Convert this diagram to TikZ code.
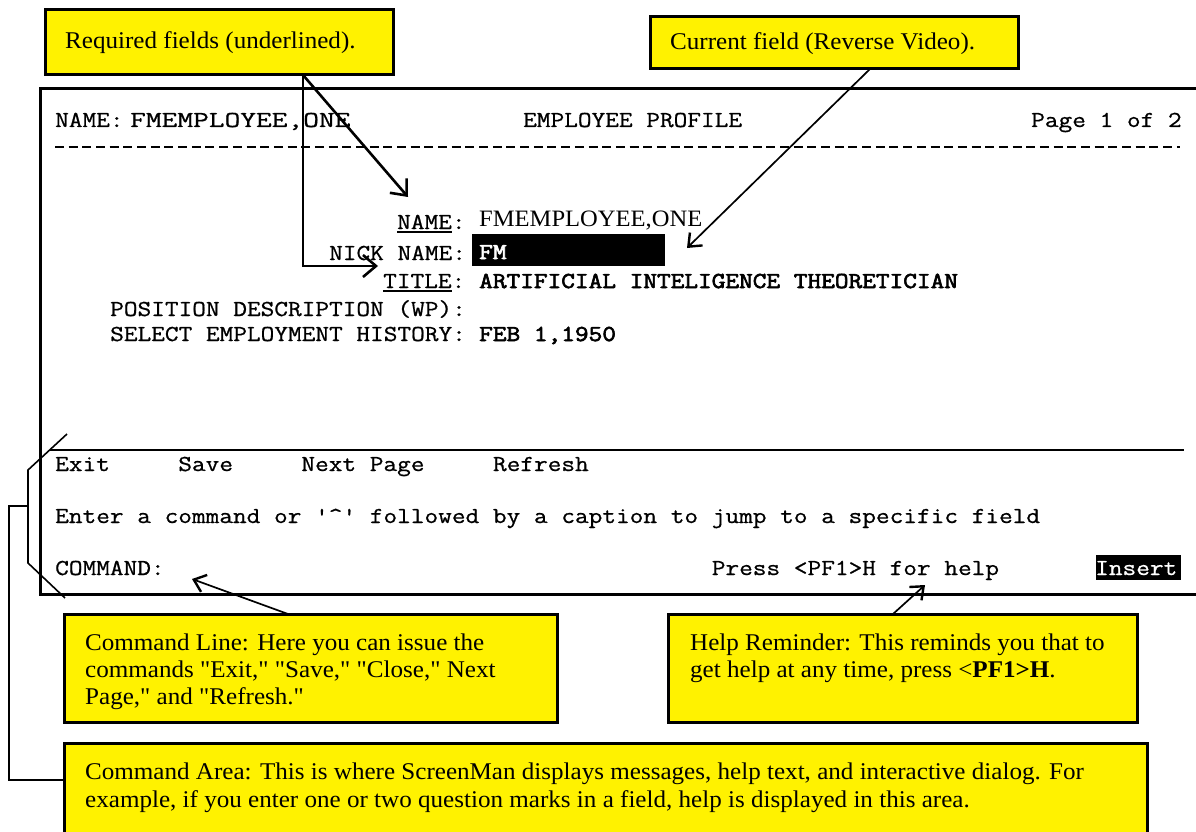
\documentclass[tikz,border=0pt]{standalone}
\usepackage{fontspec}
\usepackage{graphicx}
\setmainfont{Liberation Serif}
\newfontfamily\ser[FakeStretch=1.045]{Liberation Serif}
\newfontfamily\mono[FakeStretch=1.165,FakeBold=0.8]{Latin Modern Mono}
\newfontfamily\monob[FakeStretch=1.165,FakeBold=2.8]{Latin Modern Mono}
\usetikzlibrary{arrows.meta,calc}
\newcommand{\ulx}[1]{\setbox0\hbox{#1}\rlap{\rule[-3.5pt]{\wd0}{2pt}}\box0}
\tikzset{
  ybox/.style={draw=black, line width=3pt, fill=yellow, inner sep=0pt, outer sep=0pt, anchor=north west},
  ytext/.style={anchor=base west, inner sep=0pt, font=\ser\fontsize{24}{27}\selectfont},
  mtext/.style={anchor=base west, inner sep=0pt, font=\mono\fontsize{22.8}{27}\selectfont},
  mbold/.style={anchor=base west, inner sep=0pt, font=\monob\fontsize{22.8}{27}\selectfont},
  blk/.style={fill=black, inner sep=0pt, outer sep=0pt, anchor=north west},
  arr/.style={line width=2.6pt, -{Straight Barb[length=13pt,width=22pt,line width=2.6pt]}},
  thinarr/.style={line width=1.7pt, -{Straight Barb[length=11pt,width=18pt,line width=2.4pt]}},
}
\begin{document}
\begin{tikzpicture}[x=1pt,y=-1pt]
\useasboundingbox (0,0) rectangle (1196,832);
\clip (0,0) rectangle (1196,832);

% screen frame
\node[draw=black, line width=3pt, inner sep=0pt, outer sep=0pt, anchor=north west,
      minimum width=1170pt, minimum height=505pt] (screen) at (40,89) {};

% header
\node[mtext] (hname) at (55,127) {NAME:};
\node[mtext] (hval) at (130,127) {\scalebox{1.15}[1]{FMEMPLOYEE,ONE}};
\node[mtext] (htitle) at (523,127) {EMPLOYEE PROFILE};
\node[mtext] (hpage) at (1031,127) {Page 1 of 2};
\draw[line width=1.4pt, dash pattern=on 9pt off 4.68pt] (55,147) -- (1180,147);

% fields
\node[mtext] (lname) at (397,229) {\ulx{NAME}:};
\node[ytext, font=\ser\fontsize{23.5}{27}\selectfont] (vname) at (479,226) {FMEMPLOYEE,ONE};
\node[blk, minimum width=193pt, minimum height=32pt] (fmbox) at (472,234) {};
\node[mbold, text=white] (vnick) at (479,259) {FM};
\node[mtext] (lnick) at (329,260) {NICK NAME:};
\node[mtext] (ltitle) at (383,288) {\ulx{TITLE}:};
\node[mbold] (vtitle) at (479,288) {ARTIFICIAL INTELIGENCE THEORETICIAN};
\node[mtext] (lpos) at (110,316) {POSITION DESCRIPTION (WP):};
\node[mtext] (lsel) at (110,341) {SELECT EMPLOYMENT HISTORY:};
\node[mbold] (vsel) at (479,341) {FEB 1,1950};

% command area
\draw[line width=2pt] (50,450) -- (1184,450);
\node[mtext] (mexit) at (55,471) {Exit};
\node[mtext] (msave) at (178.1,471) {Save};
\node[mtext] (mnext) at (301.2,471) {Next Page};
\node[mtext] (mref) at (492.8,471) {Refresh};
\node[mtext] (enter) at (55,523) {Enter a command or '\textasciicircum' followed by a caption to jump to a specific field};
\node[mtext] (cmd) at (55,575) {COMMAND:};
\node[mtext] (help) at (711.6,575) {Press <PF1>H for help};
\node[blk, minimum width=85pt, minimum height=25pt] (insbox) at (1096,555) {};
\node[mtext, text=white] (ins) at (1095,575) {Insert};

% yellow callouts
\node[ybox, minimum width=348pt, minimum height=65pt] (req) at (45,10) {};
\node[ytext] (reqt) at (65,49) {Required fields (underlined).};
\node[ybox, minimum width=368pt, minimum height=52pt] (cur) at (650,17) {};
\node[ytext] (curt) at (670,50) {Current field (Reverse Video).};

\node[ybox, minimum width=493pt, minimum height=108pt] (cline) at (64,614) {};
\node[ytext] (cl1) at (85,650) {Command Line: Here you can issue the};
\node[ytext] (cl2) at (85,677) {commands "Exit," "Save," "Close," Next};
\node[ytext] (cl3) at (85,704) {Page," and "Refresh."};

\node[ybox, minimum width=469pt, minimum height=108pt] (hrem) at (668,614) {};
\node[ytext] (hr1) at (690,650) {Help Reminder: This reminds you that to};
\node[ytext] (hr2) at (690,677) {get help at any time, press <{\bfseries PF1>H}.};

\node[ybox, minimum width=1083pt, minimum height=100pt] (carea) at (64,743) {};
\node[ytext] (ca1) at (85,779) {Command Area: This is where ScreenMan displays messages, help text, and interactive dialog. For};
\node[ytext] (ca2) at (85,807) {example, if you enter one or two question marks in a field, help is displayed in this area.};

% connectors
\coordinate (reqfoot) at ($(req.south west)+(258,0)$);
\coordinate (nametip) at (408,197);
\coordinate (titletip) at (378,266);
\coordinate (curfoot) at ($(cur.south west)+(220,0)$);
\coordinate (fmtip) at (687,248);
\coordinate (clfoot) at ($(cline.north west)+(224,0)$);
\coordinate (cmdtip) at (192,579);
\coordinate (hrfoot) at ($(hrem.north west)+(225,0)$);
\coordinate (helptip) at (925,585);

\draw[arr] (reqfoot) -- (nametip);
\draw[arr] (reqfoot) |- (titletip);
\draw[thinarr] (curfoot) -- (fmtip);
\draw[thinarr] (clfoot) -- (cmdtip);
\draw[thinarr] (hrfoot) -- (helptip);

% bracket for command area
\coordinate (bt) at (67,434);
\coordinate (bb) at (65,598);
\coordinate (bmid) at (28,506);
\draw[line width=1.6pt] (bt) -- (28,470) -- (28,563) -- (bb);
\draw[line width=1.2pt] (bmid) -- (9,506) -- (9,780) -- ($(carea.north west)+(0,37)$);
\end{tikzpicture}
\end{document}
